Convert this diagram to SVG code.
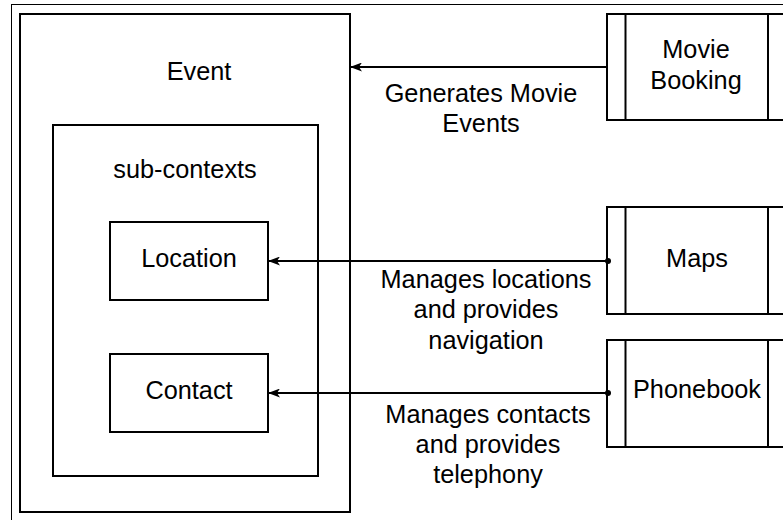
<svg xmlns="http://www.w3.org/2000/svg" width="783" height="520" viewBox="0 0 783 520">
<style>
text{font-family:"Liberation Sans",Arial,sans-serif;font-size:25.3px;fill:#000;text-anchor:middle}
.box{fill:#fff;stroke:#000;stroke-width:2}
.conn{fill:none;stroke:#000;stroke-width:2}
</style>
<defs>
<marker id="arr" viewBox="0 0 12 9" refX="11" refY="4.5" markerWidth="12" markerHeight="9" markerUnits="userSpaceOnUse" orient="auto">
<path d="M0,0 L12,4.5 L0,9 L3,4.5 Z" fill="#000"/>
</marker>
</defs>
<rect x="11.5" y="4.5" width="800" height="530" fill="#fff" stroke="#000" stroke-width="1"/>
<g id="event">
<rect class="box" x="20" y="14" width="330" height="498"/>
<text x="199" y="80">Event</text>
</g>
<g id="subcontexts">
<rect class="box" x="53" y="125" width="265" height="351" stroke-width="1.6"/>
<text x="185" y="178">sub-contexts</text>
</g>
<g id="location">
<rect class="box" x="110" y="222" width="158" height="78"/>
<text x="189" y="267">Location</text>
</g>
<g id="contact">
<rect class="box" x="110" y="354" width="158" height="78"/>
<text x="189" y="399">Contact</text>
</g>
<g id="moviebooking">
<rect class="box" x="607" y="14" width="180" height="106"/>
<line x1="625.5" y1="14" x2="625.5" y2="120" stroke="#000" stroke-width="2"/>
<line x1="768" y1="14" x2="768" y2="120" stroke="#000" stroke-width="2"/>
<text x="696" y="58">Movie</text>
<text x="696" y="89">Booking</text>
</g>
<g id="maps">
<rect class="box" x="607" y="207" width="180" height="107"/>
<line x1="625.5" y1="207" x2="625.5" y2="314" stroke="#000" stroke-width="2"/>
<line x1="768" y1="207" x2="768" y2="314" stroke="#000" stroke-width="2"/>
<text x="697" y="267">Maps</text>
</g>
<g id="phonebook">
<rect class="box" x="607" y="340" width="180" height="107"/>
<line x1="625.5" y1="340" x2="625.5" y2="447" stroke="#000" stroke-width="2"/>
<line x1="768" y1="340" x2="768" y2="447" stroke="#000" stroke-width="2"/>
<text x="697" y="398">Phonebook</text>
</g>
<g id="connectors">
<line class="conn" x1="607" y1="67" x2="351" y2="67" marker-end="url(#arr)"/>
<line class="conn" x1="608" y1="261" x2="269" y2="261" marker-end="url(#arr)"/>
<circle cx="608" cy="261" r="3" fill="#000"/>
<line class="conn" x1="608" y1="393" x2="269" y2="393" marker-end="url(#arr)"/>
<circle cx="608" cy="393" r="3" fill="#000"/>
<text x="481" y="102">Generates Movie</text>
<text x="481" y="132">Events</text>
<text x="486" y="288">Manages locations</text>
<text x="486" y="318">and provides</text>
<text x="486" y="349">navigation</text>
<text x="488" y="423">Manages contacts</text>
<text x="488" y="453">and provides</text>
<text x="488" y="483">telephony</text>
</g>
</svg>
